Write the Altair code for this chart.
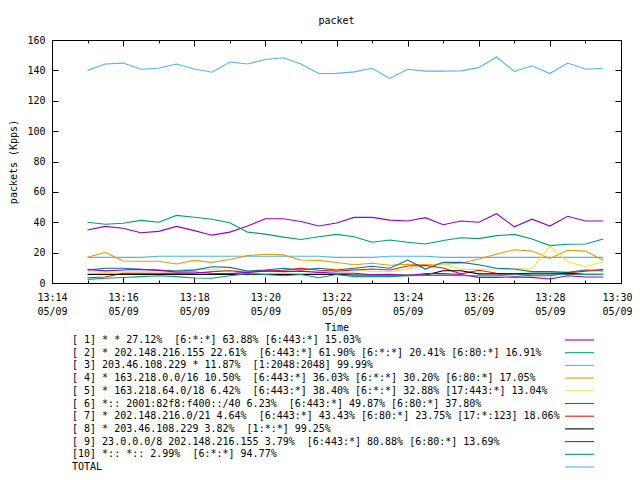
import altair as alt
import pandas as pd

FONT = "DejaVu Sans Mono"

times = ["13:15:00", "13:15:30", "13:16:00", "13:16:30", "13:17:00", "13:17:30",
         "13:18:00", "13:18:30", "13:19:00", "13:19:30", "13:20:00", "13:20:30",
         "13:21:00", "13:21:30", "13:22:00", "13:22:30", "13:23:00", "13:23:30",
         "13:24:00", "13:24:30", "13:25:00", "13:25:30", "13:26:00", "13:26:30",
         "13:27:00", "13:27:30", "13:28:00", "13:28:30", "13:29:00", "13:29:30"]

labels = [
    "[ 1] * * 27.12%  [6:*:*] 63.88% [6:443:*] 15.03%",
    "[ 2] * 202.148.216.155 22.61%  [6:443:*] 61.90% [6:*:*] 20.41% [6:80:*] 16.91%",
    "[ 3] 203.46.108.229 * 11.87%  [1:2048:2048] 99.99%",
    "[ 4] * 163.218.0.0/16 10.50%  [6:443:*] 36.03% [6:*:*] 30.20% [6:80:*] 17.05%",
    "[ 5] * 163.218.64.0/18 6.42%  [6:443:*] 38.40% [6:*:*] 32.88% [17:443:*] 13.04%",
    "[ 6] *:: 2001:82f8:f400::/40 6.23%  [6:443:*] 49.87% [6:80:*] 37.80%",
    "[ 7] * 202.148.216.0/21 4.64%  [6:443:*] 43.43% [6:80:*] 23.75% [17:*:123] 18.06%",
    "[ 8] * 203.46.108.229 3.82%  [1:*:*] 99.25%",
    "[ 9] 23.0.0.0/8 202.148.216.155 3.79%  [6:443:*] 80.88% [6:80:*] 13.69%",
    "[10] *:: *:: 2.99%  [6:*:*] 94.77%",
    "TOTAL",
]

colors = ["#9400d3", "#009e73", "#56b4e9", "#e69f00", "#f0e442", "#0072b2",
          "#e51e10", "#000000", "#9400d3", "#009e73", "#56b4e9"]

s1 = [34.9, 37.3, 36.1, 33.1, 34.0, 37.3, 34.5, 31.5, 33.5, 37.5, 42.3, 42.3, 40.5, 37.5, 39.5,
      43.2, 43.2, 41.4, 40.8, 43.0, 38.4, 40.8, 40.0, 45.6, 37.0, 42.0, 37.5, 43.9, 40.8, 40.8]
s2 = [40.0, 38.7, 39.3, 41.2, 40.0, 44.5, 43.3, 42.0, 39.7, 33.5, 32.2, 30.2, 28.6, 30.4, 32.0,
      30.5, 26.8, 28.3, 26.8, 25.7, 28.0, 29.8, 29.2, 31.2, 32.0, 29.0, 24.6, 25.5, 25.7, 29.0]
s3 = [16.9, 16.9, 16.9, 16.9, 17.6, 17.6, 17.6, 17.6, 17.6, 17.6, 17.6, 17.6, 17.6, 17.6, 16.9,
      16.9, 16.9, 17.6, 17.6, 17.6, 16.9, 16.9, 16.9, 16.9, 16.9, 16.9, 16.9, 16.9, 16.9, 16.9]
s4 = [16.9, 20.2, 14.5, 14.3, 14.3, 12.5, 14.9, 13.6, 15.5, 18.0, 18.9, 18.5, 15.1, 14.9, 13.5,
      12.0, 13.0, 11.7, 12.3, 12.0, 12.4, 13.0, 15.8, 19.0, 21.9, 21.0, 16.2, 21.5, 21.0, 15.0]
s5 = [7.5, 7.0, 7.2, 7.5, 8.0, 8.5, 9.0, 9.0, 8.2, 8.0, 8.5, 8.5, 9.0, 9.5, 9.2,
      9.0, 7.5, 7.5, 9.0, 11.5, 12.5, 9.0, 9.0, 9.2, 9.2, 9.7, 24.0, 14.0, 10.7, 14.0]
s6 = [8.6, 9.7, 9.7, 9.0, 8.6, 7.9, 8.5, 10.7, 10.3, 7.9, 8.6, 9.7, 8.6, 9.7, 8.6,
      9.7, 11.0, 9.7, 15.1, 9.2, 13.6, 13.6, 12.0, 9.7, 9.2, 7.5, 7.5, 7.0, 8.6, 7.9]
s7 = [3.5, 4.0, 6.4, 6.4, 6.4, 6.6, 6.4, 7.5, 8.1, 7.0, 7.8, 8.4, 9.7, 8.4, 7.8,
      8.6, 9.2, 8.6, 11.2, 11.6, 9.9, 6.0, 8.4, 6.4, 5.7, 4.8, 4.8, 6.6, 7.8, 9.0]
s8 = [5.7, 5.7, 5.7, 5.7, 5.7, 5.7, 5.7, 5.7, 5.7, 5.7, 5.7, 5.7, 5.7, 5.7, 5.7,
      5.3, 5.3, 5.3, 5.3, 5.3, 8.1, 8.1, 6.0, 6.0, 6.0, 6.4, 6.4, 6.4, 5.7, 5.7]
s9 = [9.0, 8.0, 8.6, 9.0, 8.3, 7.2, 7.2, 6.4, 6.2, 7.0, 8.0, 7.5, 7.8, 7.0, 6.4,
      6.4, 5.4, 5.7, 4.8, 6.2, 6.2, 5.6, 3.7, 3.7, 4.0, 3.7, 2.6, 4.8, 4.0, 4.0]
s10 = [2.4, 3.1, 3.6, 4.2, 4.8, 4.2, 3.3, 3.1, 4.8, 6.2, 5.6, 4.8, 5.6, 3.5, 5.6,
       4.2, 4.2, 4.2, 4.8, 4.9, 5.2, 4.8, 4.8, 4.8, 5.6, 5.8, 5.8, 5.6, 5.6, 5.6]
total = [140.0, 144.2, 144.8, 140.7, 141.4, 144.2, 140.9, 138.8, 145.5, 144.2, 147.2, 148.3,
         144.2, 137.9, 138.0, 139.0, 141.4, 134.7, 140.7, 139.5, 139.5, 139.7, 141.8, 148.8,
         139.3, 143.0, 137.9, 144.8, 140.7, 141.4]

series_values = [s1, s2, s3, s4, s5, s6, s7, s8, s9, s10, total]

# keep double spaces visible in SVG
disp = [lab.replace("  ", " \u00a0") for lab in labels]

rows = []
for lab, vals in zip(disp, series_values):
    for t, v in zip(times, vals):
        rows.append({"series": lab, "time": "2024-05-09T" + t, "value": v})
df = pd.DataFrame(rows)
legend_df = pd.DataFrame({"series": disp})


def dt(m):
    return alt.DateTime(year=2024, month=5, date=9, hours=13, minutes=m)


x_scale = alt.Scale(domain=[dt(14), dt(30)], nice=False)
y_scale = alt.Scale(domain=[0, 160], nice=False)
color_scale = alt.Scale(domain=disp, range=colors)
minute_ticks = [dt(m) for m in range(14, 31)]
y_ticks = list(range(0, 161, 20))
x_tick_expr = {"expr": "minutes(datum.value) % 2 == 0 ? -6 : -3"}
y_tick_expr = {"expr": "-6"}

lines = alt.Chart(df).mark_line(strokeWidth=1.1).encode(
    x=alt.X("time:T", scale=x_scale,
            axis=alt.Axis(values=minute_ticks,
                          labelExpr="minutes(datum.value) % 2 == 0 ? [timeFormat(datum.value, '%H:%M'), timeFormat(datum.value, '%m/%d')] : ''",
                          tickSize=x_tick_expr, labelPadding=15, labelLineHeight=14.5,
                          labelOffset={"expr": "minutes(datum.value) == 30 ? -4 : 0"},
                          labelOverlap=False, labelFlush=False,
                          title="Time", titleY=44.7, titleBaseline="middle")),
    y=alt.Y("value:Q", scale=y_scale,
            axis=alt.Axis(values=y_ticks, tickSize=y_tick_expr, labelPadding=13,
                          title="packets (Kpps)", titleX=-38.5, titleY=121.5,
                          titleBaseline="middle")),
    color=alt.Color("series:N", scale=color_scale, legend=None),
)

mirror = alt.Chart(df).mark_line(opacity=0).encode(
    x=alt.X("time:T", scale=x_scale,
            axis=alt.Axis(orient="top", values=minute_ticks, labels=False,
                          tickSize=x_tick_expr, title=None)),
    y=alt.Y("value:Q", scale=y_scale,
            axis=alt.Axis(orient="right", values=y_ticks, labels=False,
                          tickSize=y_tick_expr, title=None)),
)

legend_y = alt.Y("series:N", sort=disp,
                 scale=alt.Scale(type="point", domain=disp, range=[300, 427], padding=0),
                 axis=None)

legend_text = alt.Chart(legend_df).mark_text(
    align="left", baseline="middle", font=FONT, fontSize=10, color="black"
).encode(text="series:N", x=alt.value(20), y=legend_y)

legend_lines = alt.Chart(legend_df).mark_rule(strokeWidth=1.1).encode(
    x=alt.value(513), x2=alt.value(542), y=legend_y,
    color=alt.Color("series:N", scale=color_scale, legend=None),
)

chart = alt.layer(lines, mirror, legend_lines, legend_text).resolve_scale(
    x="independent", y="independent"
).properties(
    width=569, height=243,
    title=alt.TitleParams("packet", font=FONT, fontSize=10, fontWeight="normal",
                          color="black", offset=9, anchor="middle"),
    autosize=alt.AutoSizeParams(type="none"),
    padding={"left": 44, "top": 32, "right": 11, "bottom": 189},
).configure_view(
    stroke="black", strokeWidth=1
).configure_axis(
    domain=False, grid=False, tickColor="black", tickWidth=1,
    labelFont=FONT, labelFontSize=10, labelColor="black",
    titleFont=FONT, titleFontSize=10, titleFontWeight="normal", titleColor="black",
)

chart.save("out.html", embed_options={"renderer": "svg", "actions": False})
